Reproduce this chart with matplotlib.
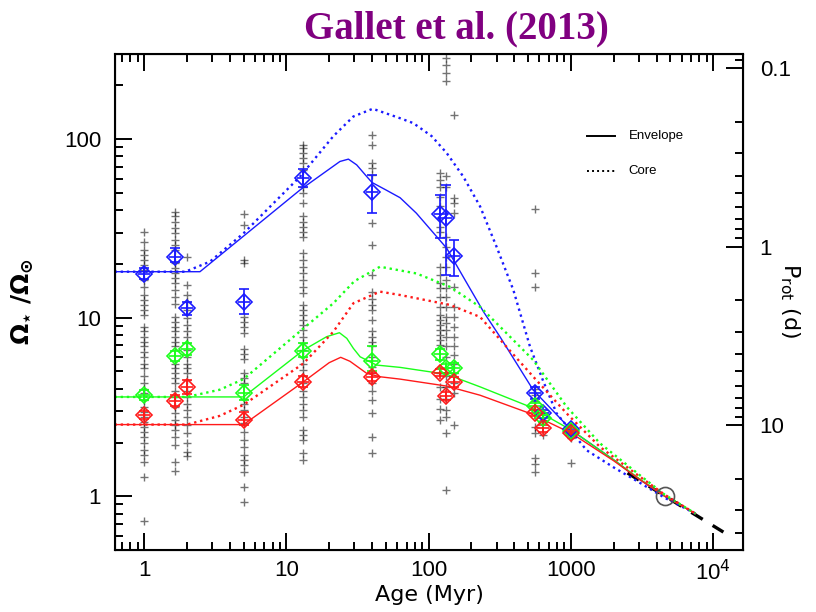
import matplotlib
matplotlib.use("Agg")
import matplotlib.pyplot as plt
from matplotlib.ticker import LogLocator, NullFormatter, FixedLocator, FixedFormatter

plt.rcParams['font.family'] = ['Liberation Sans', 'DejaVu Sans']

# Observed rotation rates (Omega / Omega_sun) per cluster
ages_obs = [1.0, 1.65, 2.0, 5.0, 13.0, 40.0, 120.0, 132.0, 150.0, 560.0, 640.0, 1000.0]
obs_1 = [30.3, 26.7, 24.0, 22.5, 21.1, 19.8, 18.5, 16.3, 14.9, 13.4, 12.6, 11.8, 11.0, 10.4,
         8.9, 8.4, 7.8, 7.3, 6.9, 6.4, 6.0, 5.5, 5.2, 4.7, 4.3, 4.0, 3.8, 3.45, 3.17, 2.97,
         2.79, 2.61, 2.45, 2.30, 2.15, 1.98, 1.81, 1.70, 1.56, 1.28, 0.73]
obs_1p65 = [39.3, 36.9, 34.5, 31.7, 29.7, 27.3, 25.6, 24.0, 20.2, 18.9, 17.7, 16.6, 15.6, 14.3,
            13.1, 12.0, 10.1, 9.5, 8.9, 8.4, 7.8, 7.3, 6.9, 5.5, 5.2, 4.9, 4.6, 4.3, 3.9, 3.6,
            3.17, 2.91, 2.67, 2.50, 2.34, 2.15, 1.93, 1.56, 1.39]
obs_2 = [21.8, 15.3, 13.4, 12.3, 11.0, 9.9, 9.1, 8.4, 7.8, 7.2, 6.6, 6.0, 5.5, 5.2, 4.9, 4.5,
         3.9, 3.6, 3.3, 3.04, 2.79, 2.50, 2.25, 1.98, 1.77, 1.68]
obs_5 = [38.0, 33.1, 21.1, 20.2, 10.1, 9.5, 8.9, 8.2, 6.7, 6.3, 5.9, 4.9, 4.6, 4.3, 3.5, 3.3,
         3.04, 2.79, 2.56, 2.30, 2.06, 1.89, 1.70, 1.59, 1.49, 1.37, 1.13, 0.93]
obs_13 = [93, 89, 83.6, 78.3, 73.4, 67.3, 54.3, 49.9, 43.9, 36.9, 34.5, 32.4, 30.3, 28.5, 23.0,
          21.1, 19.3, 17.7, 16.3, 14.9, 13.7, 11.8, 11.0, 10.4, 9.7, 9.1, 8.5, 7.8, 7.2, 6.6,
          6.0, 5.5, 5.1, 4.7, 4.3, 3.9, 3.6, 3.3, 3.04, 2.79, 2.34, 2.20, 2.06, 1.74, 1.59]
obs_40 = [106, 93, 73.4, 68.8, 63.1, 33.8, 25.6, 17.4, 14.0, 12.8, 11.8, 11.0, 9.7, 8.4, 7.8,
          7.3, 6.9, 6.0, 5.3, 4.9, 4.3, 3.9, 3.45, 2.91, 2.15, 1.74]
obs_120 = [64.4, 59.2, 54.3, 47.7, 42.0, 32.4, 30.3, 19.3, 17.4, 15.6, 14.6, 13.1, 11.5, 10.4,
           9.7, 9.1, 8.5, 8.0, 7.5, 7.0, 4.9, 4.1, 3.5, 3.1, 2.67]
obs_132 = [285, 261, 235, 211, 61.8, 54.3, 28.5, 25.0, 22.0, 19.3, 16.3, 14.6, 13.1, 11.5,
           10.1, 9.3, 8.5, 7.8, 6.9, 6.0, 4.7, 4.1, 3.5, 3.04, 2.79, 2.25, 1.08]
obs_150 = [137, 46.7, 43.9, 38.5, 14.9, 11.5, 10.1, 8.9, 7.8, 6.9, 6.2, 5.5, 4.9, 4.3, 3.8, 2.5]
obs_560 = [40.6, 17.9, 14.9, 4.0, 3.7, 3.4, 3.04, 2.45, 2.25, 1.63, 1.52, 1.37]
obs_640 = [2.91, 2.67, 2.20]
obs_1000 = [2.11, 1.54]
obs_all = [obs_1, obs_1p65, obs_2, obs_5, obs_13, obs_40, obs_120, obs_132, obs_150,
           obs_560, obs_640, obs_1000]

# 90th / 50th / 25th percentiles with their error bounds
pct90 = [17.5, 22.0, 11.3, 12.3, 60.5, 50.9, 38.2, 36.1, 22.2, 3.8, 2.91, 2.37]
pct90_lo = [16.5, 20.5, 10.3, 10.5, 54.3, 38.5, 28.0, 17.4, 17.2, 3.5, 2.75, 2.25]
pct90_hi = [19.0, 24.5, 12.3, 14.5, 68.0, 63.0, 48.6, 55.4, 27.3, 4.1, 3.05, 2.5]
pct50 = [3.68, 6.1, 6.67, 3.77, 6.53, 5.74, 6.24, 5.2, 5.2, 3.2, 2.73, 2.33]
pct50_lo = [3.45, 5.7, 6.2, 3.45, 6.0, 5.0, 5.8, 4.9, 4.9, 3.05, 2.6, 2.25]
pct50_hi = [3.95, 6.5, 7.2, 4.2, 7.2, 6.9, 6.7, 5.5, 5.6, 3.35, 2.85, 2.42]
pct25 = [2.85, 3.42, 4.07, 2.69, 4.38, 4.63, 4.92, 3.64, 4.38, 2.91, 2.4, 2.26]
pct25_lo = [2.7, 3.2, 3.75, 2.5, 4.1, 4.4, 4.7, 3.45, 4.1, 2.8, 2.3, 2.2]
pct25_hi = [3.0, 3.7, 4.5, 2.95, 4.7, 4.9, 5.15, 3.85, 4.65, 3.05, 2.5, 2.32]

# Model tracks: envelope (solid) and core (dotted)
fast_env_t = [0.62, 2.47, 12.5, 23.8, 27.3, 31.2, 36.7, 40, 50, 63, 82, 134, 180, 243, 318,
              544, 1012, 2000, 3000, 4570, 7500]
fast_env_w = [18.1, 18.1, 52, 75, 77.3, 71.8, 61.8, 57.2, 52, 47, 38.5, 24.5, 16.3, 10.8, 7.8,
              3.93, 2.34, 1.6, 1.25, 1.0, 0.8]
fast_core_t = [0.62, 1.95, 2.9, 5, 12.5, 21.4, 29.6, 40.5, 63, 78, 105, 134, 175, 230, 300,
               394, 516, 640, 794, 1290, 2000, 3000, 4570, 7500]
fast_core_w = [18.1, 18.1, 20.6, 29.7, 61.8, 104, 134, 148, 131, 123, 104, 83.6, 61.8, 42, 25,
               14.3, 6.88, 4.4, 2.91, 1.81, 1.45, 1.2, 0.98, 0.8]
med_env_t = [0.62, 5, 13.2, 19.2, 23.6, 26.6, 29.6, 33, 43, 63, 134, 230, 516, 1012, 2000,
             3000, 4570, 7500]
med_env_w = [3.6, 3.6, 6.59, 7.83, 8.24, 7.66, 6.73, 6.04, 5.43, 5.27, 4.82, 4.1, 3.17, 2.34,
             1.6, 1.26, 1.0, 0.8]
med_core_t = [0.62, 2.0, 3.4, 5, 13.2, 21.4, 30, 45.5, 82, 141, 230, 318, 544, 934, 1600,
              3060, 4570, 7500]
med_core_w = [3.6, 3.6, 3.95, 4.53, 8.72, 12.05, 16.0, 19.3, 17.7, 14.9, 11.5, 8.9, 5.79,
              3.17, 1.98, 1.31, 1.02, 0.8]
slow_env_t = [0.62, 5, 13.2, 20, 24.1, 28, 36.7, 45.5, 63, 134, 230, 516, 1012, 2000, 3000,
              4570, 7500]
slow_env_w = [2.52, 2.52, 4.38, 5.6, 6.0, 5.7, 4.88, 4.67, 4.53, 4.14, 3.68, 2.91, 2.25, 1.58,
              1.25, 1.0, 0.8]
slow_core_t = [0.62, 2.0, 3.4, 5, 13.2, 21.4, 29.6, 45.5, 63, 141, 230, 351, 544, 934, 1600,
               3000, 4570, 7500]
slow_core_w = [2.52, 2.52, 2.82, 3.25, 5.55, 8.35, 12.05, 14.0, 13.4, 11.8, 10.1, 6.9, 4.67,
               2.91, 1.89, 1.3, 1.02, 0.8]

# Skumanich extension past the Sun
sku_t = [2500, 11800]
sku_w = [1.35, 0.63]
sun_t, sun_w = 4570, 1.0

P_SUN = 25.0  # P_rot (d) = P_SUN / (Omega/Omega_sun)
BLUE, GREEN, RED = '#1a1aff', '#1aff1a', '#ff1a1a'

fig = plt.figure(figsize=(8.16, 6.12), dpi=100)
ax = fig.add_axes([0.141, 0.1013, 0.7695, 0.8105])
ax.set_xscale('log')
ax.set_yscale('log')
ax.set_xlim(0.625, 16200)
ax.set_ylim(0.5, 300)

for t, vals in zip(ages_obs, obs_all):
    ax.plot([t] * len(vals), vals, '+', color='black', alpha=0.55, ms=6, mew=1.0, zorder=2)

ax.plot(sku_t, sku_w, color='black', lw=2.4, dashes=(4, 3.5), zorder=3)

dot = (0, (1, 1.6))
for tt, ww, c in [(fast_env_t, fast_env_w, BLUE), (med_env_t, med_env_w, GREEN),
                  (slow_env_t, slow_env_w, RED)]:
    ax.plot(tt, ww, color=c, lw=1.0, zorder=4)
for tt, ww, c in [(fast_core_t, fast_core_w, BLUE), (med_core_t, med_core_w, GREEN),
                  (slow_core_t, slow_core_w, RED)]:
    ax.plot(tt, ww, color=c, lw=1.7, linestyle=dot, zorder=4)

for vals, lo, hi, c in [(pct90, pct90_lo, pct90_hi, BLUE), (pct50, pct50_lo, pct50_hi, GREEN),
                        (pct25, pct25_lo, pct25_hi, RED)]:
    yerr = [[v - l for v, l in zip(vals, lo)], [h - v for v, h in zip(vals, hi)]]
    ax.errorbar(ages_obs, vals, yerr=yerr, fmt='D', ms=8.5, mfc='none', mec=c, mew=1.2,
                ecolor=c, elinewidth=1.2, capsize=3.5, capthick=1.2, zorder=5)
    ax.plot(ages_obs, vals, '+', color=c, ms=9, mew=1.2, zorder=5)

ax.plot([sun_t], [sun_w], 'o', ms=13, mfc='none', mec='#555555', mew=1.2, zorder=6)

# legend
ax.plot([0.752, 0.796], [0.835, 0.835], color='black', lw=1.4, transform=ax.transAxes)
ax.plot([0.752, 0.796], [0.765, 0.765], color='black', lw=1.4, linestyle=dot,
        transform=ax.transAxes)
ax.text(0.818, 0.835, 'Envelope', fontsize=9.5, va='center', transform=ax.transAxes)
ax.text(0.818, 0.765, 'Core', fontsize=9.5, va='center', transform=ax.transAxes)

# axes and ticks
ax.xaxis.set_major_locator(FixedLocator([1, 10, 100, 1000, 10000]))
ax.xaxis.set_major_formatter(FixedFormatter(['1', '10', '100', '1000', '10$^4$']))
ax.xaxis.set_minor_locator(LogLocator(base=10, subs=range(2, 10), numticks=20))
ax.xaxis.set_minor_formatter(NullFormatter())
ax.yaxis.set_major_locator(FixedLocator([1, 10, 100]))
ax.yaxis.set_major_formatter(FixedFormatter(['1', '10', '100']))
ax.yaxis.set_minor_locator(LogLocator(base=10, subs=range(2, 10), numticks=20))
ax.yaxis.set_minor_formatter(NullFormatter())
ax.tick_params(which='both', direction='in', top=True, right=False, width=1.4)
ax.tick_params(which='major', length=12, labelsize=16)
ax.tick_params(axis='x', which='major', pad=7)
ax.tick_params(axis='y', which='major', pad=10)
ax.tick_params(which='minor', length=6)
for s in ax.spines.values():
    s.set_linewidth(1.5)

ax2 = ax.twinx()
ax2.set_yscale('log')
ax2.set_ylim(P_SUN / 0.5, P_SUN / 300)
ax2.yaxis.set_major_locator(FixedLocator([0.1, 1, 10]))
ax2.yaxis.set_major_formatter(FixedFormatter(['0.1', '1', '10']))
ax2.yaxis.set_minor_locator(LogLocator(base=10, subs=range(2, 10), numticks=20))
ax2.yaxis.set_minor_formatter(NullFormatter())
ax2.tick_params(which='both', direction='in', width=1.4)
ax2.tick_params(which='major', length=12, labelsize=16, pad=12)
ax2.tick_params(which='minor', length=6)

ax.set_xlabel('Age (Myr)', fontsize=16, family=['DejaVu Sans'])
ax.xaxis.set_label_coords(0.5, -0.071)
ax.set_ylabel(r'$\mathbf{\Omega_{\star}}\ \mathbf{/\Omega_{\odot}}$', fontsize=18)
ax.yaxis.set_label_coords(-0.127, 0.5)
ax2.set_ylabel(r'P$_{\rm rot}$ (d)', fontsize=16, rotation=270, va='center',
               family=['DejaVu Sans'])
ax2.yaxis.set_label_coords(1.075, 0.504)

fig.text(0.559, 0.952, 'Gallet et al. (2013)', ha='center', va='center', fontsize=28,
         fontweight='bold', color='#800080', family=['Liberation Serif'])

fig.savefig('out.png', dpi=100)
